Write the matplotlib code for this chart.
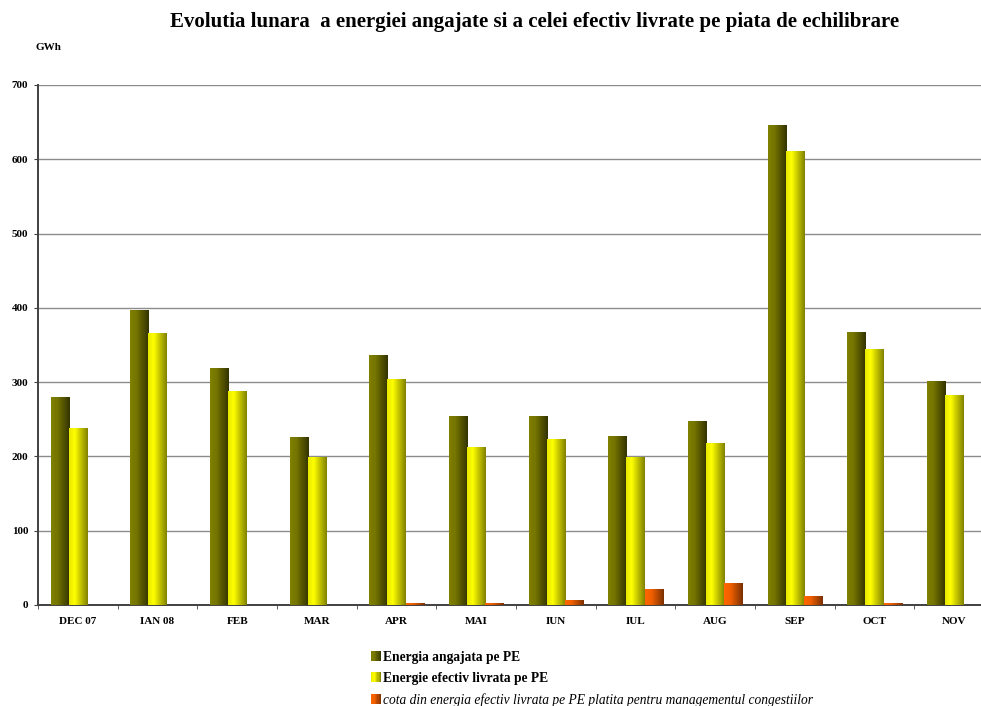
import numpy as np
import matplotlib
matplotlib.use("Agg")
import matplotlib.pyplot as plt
from matplotlib.colors import LinearSegmentedColormap
from matplotlib.patches import Rectangle
from matplotlib.legend_handler import HandlerBase

months = ["DEC 07", "IAN 08", "FEB", "MAR", "APR", "MAI", "IUN", "IUL", "AUG", "SEP", "OCT", "NOV"]
angajata = [280, 397, 319, 225, 336, 254, 254, 227, 247, 646, 367, 301]
livrata = [238, 365, 288, 198, 304, 212, 223, 198, 218, 611, 344, 282]
cota = [0, 0, 0, 0, 2.4, 2.4, 6.3, 21, 29, 11.5, 2.4, 0]
yticks = [0, 100, 200, 300, 400, 500, 600, 700]

labels = ["Energia angajata pe PE", "Energie efectiv livrata pe PE",
          "cota din energia efectiv livrata pe PE platita pentru managementul congestiilor"]

plt.rcParams['font.family'] = ['Liberation Serif', 'DejaVu Serif']

cm_dark = LinearSegmentedColormap.from_list('d', [(0, '#808000'), (0.35, '#747400'), (1, '#333300')])
cm_yel = LinearSegmentedColormap.from_list('y', [(0, '#e8e800'), (0.3, '#ffff00'), (1, '#808000')])
cm_org = LinearSegmentedColormap.from_list('o', [(0, '#ff6600'), (0.35, '#f05f00'), (1, '#7a3000')])

fig = plt.figure(figsize=(9.81, 7.06), dpi=100)
ax = fig.add_axes([38/981, 1-605/706, (994-38)/981, (605-85)/706])
ax.patch.set_visible(False)

x = np.arange(len(months))
w = 0.226
b1 = ax.bar(x - w, angajata, w, color='#5c5c00', zorder=3)
b2 = ax.bar(x, livrata, w, color='#cccc00', zorder=3)
b3 = ax.bar(x + w, cota, w, color='#d05000', zorder=3)

grad = np.linspace(0, 1, 128).reshape(1, -1)
for bars, cm in [(b1, cm_dark), (b2, cm_yel), (b3, cm_org)]:
    for b in bars:
        h = b.get_height()
        if h <= 0:
            continue
        x0 = b.get_x()
        ax.imshow(grad, extent=[x0, x0 + b.get_width(), 0, h], aspect='auto',
                  cmap=cm, zorder=3.5, interpolation='bilinear')

ax.set_xlim(-0.5, len(months) - 0.5)
ax.set_ylim(0, 700)
ax.set_yticks(yticks)
ax.set_yticklabels([str(v) for v in yticks], fontsize=8, fontweight='bold')
ax.set_xticks(x)
ax.set_xticklabels(months, fontsize=8, fontweight='bold')
ax.set_xticks(np.arange(-0.5, len(months), 1), minor=True)
ax.tick_params(axis='x', which='major', length=0, pad=9)
ax.tick_params(axis='x', which='minor', length=3, direction='out', color='#404040')
ax.tick_params(axis='y', length=3, direction='out', color='#404040', pad=4)
ax.yaxis.grid(True, color='#8c8c8c', linewidth=1, zorder=0)
ax.set_axisbelow(True)
for s in ['top', 'right']:
    ax.spines[s].set_visible(False)
for s in ['left', 'bottom']:
    ax.spines[s].set_color('#404040')
    ax.spines[s].set_linewidth(1.4)
ax.spines['bottom'].set_zorder(3.2)

fig.text(535/981, 1-22/706, "Evolutia lunara  a energiei angajate si a celei efectiv livrate pe piata de echilibrare",
         ha='center', va='center', fontsize=15, fontweight='bold')
fig.text(35/981, 1-48/706, "GWh", ha='left', va='center', fontsize=8, fontweight='bold')


class GradHandler(HandlerBase):
    def __init__(self, cmap):
        super().__init__()
        self.cmap = cmap

    def create_artists(self, legend, orig_handle, xdescent, ydescent, width, height, fontsize, trans):
        n = 8
        arts = []
        for i in range(n):
            r = Rectangle((-xdescent + width * i / n, -ydescent), width / n + 0.3, height,
                          facecolor=self.cmap((i + 0.5) / n), edgecolor='none', transform=trans)
            arts.append(r)
        return arts


h1 = Rectangle((0, 0), 1, 1)
h2 = Rectangle((0, 0), 1, 1)
h3 = Rectangle((0, 0), 1, 1)
leg = fig.legend([h1, h2, h3], labels, loc='upper left', bbox_to_anchor=(371/981, 1-651/706),
                 frameon=False, fontsize=9.75, handlelength=0.74, handleheight=0.74,
                 handletextpad=0.15, labelspacing=0.6, borderpad=0, borderaxespad=0,
                 handler_map={h1: GradHandler(cm_dark), h2: GradHandler(cm_yel), h3: GradHandler(cm_org)})
texts = leg.get_texts()
texts[0].set_fontweight('bold')
texts[1].set_fontweight('bold')
texts[2].set_fontstyle('italic')

fig.savefig("out.png", dpi=100)
